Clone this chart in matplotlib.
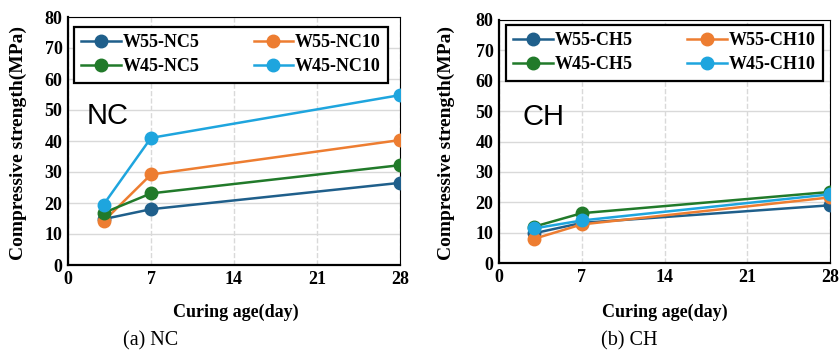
import matplotlib
matplotlib.use("Agg")
import matplotlib.pyplot as plt

# data
days = [3, 7, 28]

nc_labels = ['W55-NC5', 'W55-NC10', 'W45-NC5', 'W45-NC10']
nc_w55_nc5 = [14.8, 18.0, 26.5]
nc_w55_nc10 = [14.1, 29.2, 40.3]
nc_w45_nc5 = [16.8, 23.1, 32.2]
nc_w45_nc10 = [19.5, 41.0, 54.8]

ch_labels = ['W55-CH5', 'W55-CH10', 'W45-CH5', 'W45-CH10']
ch_w55_ch5 = [9.8, 13.2, 19.0]
ch_w55_ch10 = [8.0, 12.7, 21.6]
ch_w45_ch5 = [12.0, 16.4, 23.4]
ch_w45_ch10 = [11.4, 14.0, 22.6]

colors = ['#1f5f8b', '#ed7d31', '#217a2a', '#1ea5de']
xticks = [0, 7, 14, 21, 28]
yticks = [0, 10, 20, 30, 40, 50, 60, 70, 80]

plt.rcParams['font.family'] = ['Liberation Serif', 'DejaVu Serif']

fig = plt.figure(figsize=(8.4, 3.63), dpi=100)
W, H = 840, 363


def px_axes(x0, x1, y0, y1):
    # pixel box (top-left origin) -> figure fraction
    return fig.add_axes([x0 / W, 1 - y1 / H, (x1 - x0) / W, (y1 - y0) / H])


def draw_panel(ax, series, labels, tag, leg_box, tag_pos):
    lines = []
    for vals, lab, c in zip(series, labels, colors):
        ln, = ax.plot(days, vals, color=c, lw=1.8, marker='o', ms=9, label=lab, zorder=3)
        lines.append(ln)
    ax.set_xlim(0, 28)
    ax.set_ylim(0, 80)
    ax.set_xticks(xticks)
    ax.set_yticks(yticks)
    ax.tick_params(length=0, labelsize=13, pad=4)
    for t in ax.get_xticklabels() + ax.get_yticklabels():
        t.set_fontweight('bold')
    ax.yaxis.grid(True, color='#d9d9d9', lw=1.0, ls='-')
    ax.xaxis.grid(True, color='#d9d9d9', lw=1.0, ls='--')
    ax.set_axisbelow(True)
    for s in ['top', 'right']:
        ax.spines[s].set_linewidth(0.8)
    for s in ['left', 'bottom']:
        ax.spines[s].set_linewidth(1.6)
    # legend fills column-wise, so reorder to get W55 on the first row
    order = [0, 2, 1, 3]
    leg = ax.legend([lines[i] for i in order], [labels[i] for i in order],
                    loc='center', bbox_to_anchor=leg_box, mode='expand', ncol=2,
                    borderaxespad=0, fancybox=False, framealpha=1, edgecolor='black',
                    prop={'weight': 'bold', 'size': 13}, handlelength=2.2,
                    handletextpad=0.1, labelspacing=0.4, columnspacing=1.0,
                    borderpad=0.4)
    leg.get_frame().set_linewidth(1.6)
    ax.text(tag_pos[0], tag_pos[1], tag, transform=ax.transAxes, fontsize=21,
            family='Liberation Sans', va='center', ha='left')


ax1 = px_axes(68, 400, 17, 265)
draw_panel(ax1, [nc_w55_nc5, nc_w55_nc10, nc_w45_nc5, nc_w45_nc10], nc_labels, 'NC',
           (0.018, 0.734, 0.946, 0.227), (0.055, 0.6))

ax2 = px_axes(499, 830, 20, 263)
draw_panel(ax2, [ch_w55_ch5, ch_w55_ch10, ch_w45_ch5, ch_w45_ch10], ch_labels, 'CH',
           (0.021, 0.749, 0.958, 0.233), (0.07, 0.6))

for xc, yc, xl in [(18, 143, 236), (446, 143, 665)]:
    fig.text(xc / W, 1 - yc / H, 'Compressive strength(MPa)', rotation=90,
             fontsize=14, fontweight='bold', ha='center', va='center')
    fig.text(xl / W, 1 - 312 / H, 'Curing age(day)', fontsize=13,
             fontweight='bold', ha='center', va='center')

fig.text(151 / W, 1 - 341 / H, '(a) NC', fontsize=14.5, ha='center', va='center')
fig.text(629 / W, 1 - 341 / H, '(b) CH', fontsize=14.5, ha='center', va='center')

fig.savefig('out.png', dpi=100)
